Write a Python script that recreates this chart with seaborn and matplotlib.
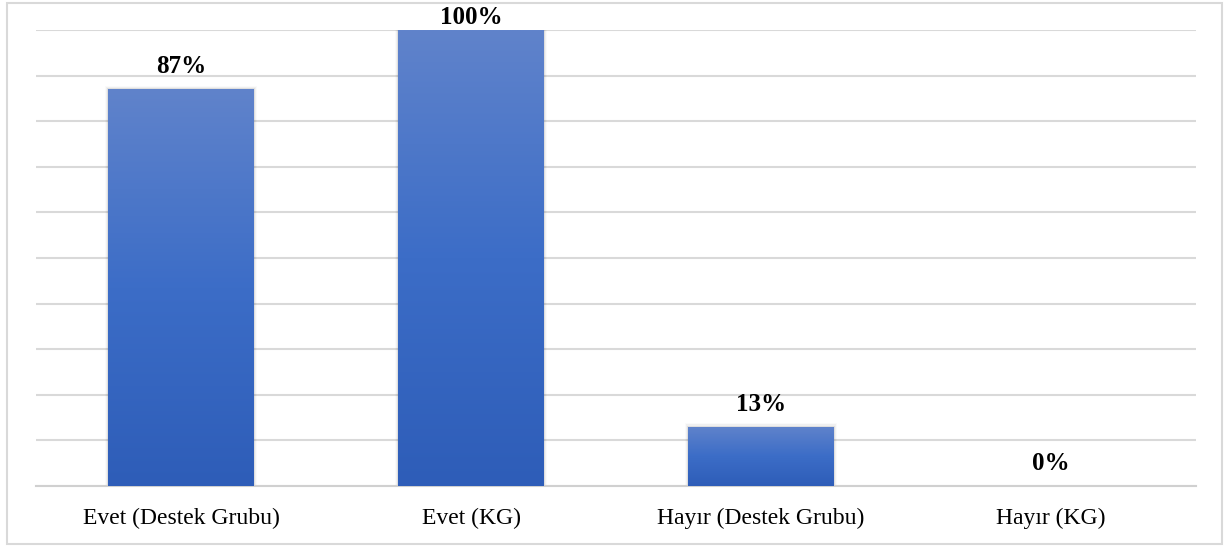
import numpy as np
import pandas as pd
import seaborn as sns
import matplotlib.pyplot as plt
from matplotlib.colors import LinearSegmentedColormap
from matplotlib.patches import Rectangle

# ----------------------------
# Data
# ----------------------------
categories = ["Evet (Destek Grubu)", "Evet (KG)", "Hayır (Destek Grubu)", "Hayır (KG)"]
percentages = [87, 100, 13, 0]

df = pd.DataFrame({"Kategori": categories, "Yuzde": percentages})

# ----------------------------
# Style
# ----------------------------
sns.set_style("white")
plt.rcParams["font.family"] = ["Liberation Serif", "DejaVu Serif"]

fig = plt.figure(figsize=(12.29, 5.47), dpi=100)
ax = fig.add_axes([36 / 1229, 61 / 547, 1160 / 1229, 456 / 547])

# outer frame
fig.patches.append(Rectangle((7 / 1229, 3 / 547), 1215 / 1229, 541 / 547,
                             transform=fig.transFigure, fill=False,
                             edgecolor="#D9D9D9", linewidth=1.5))

sns.barplot(data=df, x="Kategori", y="Yuzde", color="#3C6DC7",
            width=0.503, linewidth=0, ax=ax, zorder=3)

ax.set_ylim(0, 100)
ax.set_xlim(-0.5, len(categories) - 0.5)

# gradient fill + soft shadow on each bar
grad = LinearSegmentedColormap.from_list("g", ["#2E5DB8", "#3C6DC7", "#6083CB"])
gradient = np.linspace(0, 1, 256).reshape(-1, 1)
for bar in ax.patches:
    x0, y0 = bar.get_x(), bar.get_y()
    w, h = bar.get_width(), bar.get_height()
    if h <= 0:
        continue
    for i, a in enumerate([0.07, 0.04, 0.02]):
        d = 0.004 * (i + 1)
        ax.add_patch(Rectangle((x0 - d, y0), w + 2 * d, h + 0.25 * (i + 1),
                               facecolor="black", alpha=a, linewidth=0,
                               zorder=2))
    im = ax.imshow(gradient, extent=[x0, x0 + w, y0, y0 + h], origin="lower",
                   cmap=grad, aspect="auto", zorder=3.5)
    im.set_clip_path(bar)

ax.set_ylim(0, 100)
ax.set_xlim(-0.5, len(categories) - 0.5)

# value labels (the label at the top of the scale sits closer to the bar)
for i, v in enumerate(percentages):
    off = 1 if v >= 100 else 8
    ax.annotate(f"{v}%", (i, v), xytext=(0, off), textcoords="offset points",
                ha="center", va="bottom", fontsize=18, fontweight="bold",
                color="black", annotation_clip=False, zorder=5)

# grid and axes
ax.set_yticks(np.arange(0, 101, 10))
ax.set_yticklabels([])
ax.yaxis.grid(True, color="#D9D9D9", linewidth=1.5, zorder=0)
ax.set_axisbelow(True)
for s in ["top", "right", "left"]:
    ax.spines[s].set_visible(False)
ax.spines["bottom"].set_color("#D0D0D0")
ax.spines["bottom"].set_linewidth(1.5)
ax.tick_params(axis="x", length=0, pad=16, labelsize=17, labelcolor="black")
ax.tick_params(axis="y", length=0)
ax.set_xlabel("")
ax.set_ylabel("")

plt.savefig("out.png", dpi=100)
plt.close()
